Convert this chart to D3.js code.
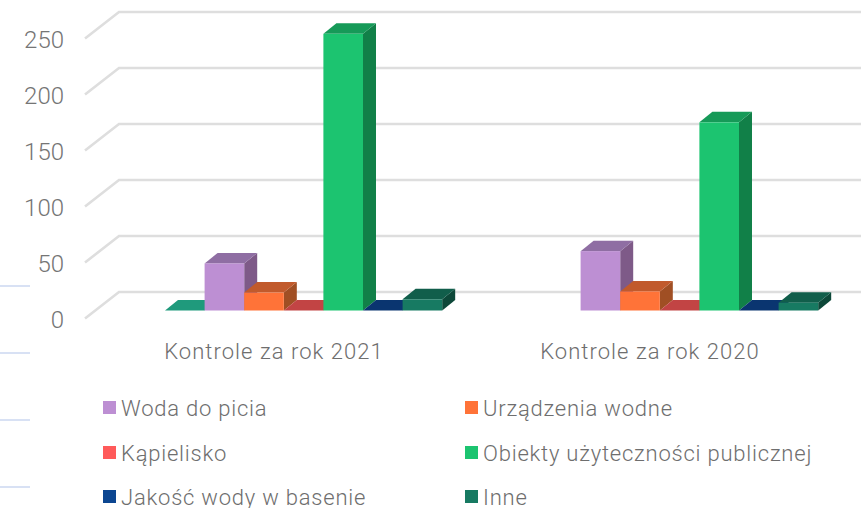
<!DOCTYPE html>
<html><head><meta charset="utf-8">
<script src="https://cdn.jsdelivr.net/npm/d3@7/dist/d3.min.js"></script>
<style>html,body{margin:0;padding:0;background:#fff}svg{display:block}
text{font-family:Roboto,sans-serif;font-weight:300}</style></head>
<body><svg id="c" width="861" height="508"></svg>
<script>
const categories = ["Kontrole za rok 2021", "Kontrole za rok 2020"];
const seriesNames = ["Seria", "Woda do picia", "Urządzenia wodne", "Kąpielisko", "Obiekty użyteczności publicznej", "Jakość wody w basenie", "Inne"];
const seriesA = [0, null];
const wodaDoPicia = [42, 53];
const urzadzenia = [16, 17];
const kapielisko = [0, 0];
const obiekty = [247, 168];
const jakosc = [0, 0];
const inne = [10, 7];
const seriesValues = [seriesA, wodaDoPicia, urzadzenia, kapielisko, obiekty, jakosc, inne];
const legendNames = ["Woda do picia", "Urządzenia wodne", "Kąpielisko", "Obiekty użyteczności publicznej", "Jakość wody w basenie", "Inne"];
const yTicks = [0, 50, 100, 150, 200, 250];
const frontColors = ["#1f9a7c", "#bd8fd3", "#ff7338", "#ff5a5a", "#1cc470", "#0c4691", "#177a62"];
const topColors = ["#1f9a7c", "#8f6ea3", "#c15a2c", "#c24444", "#169a58", "#0a3570", "#115e4b"];
const sideColors = ["#178066", "#7e5a88", "#a04f24", "#a03a3a", "#118048", "#082c5e", "#0d4839"];

const svg = d3.select("#c");
const y = d3.scaleLinear().domain([0, 250]).range([310.5, 30.5]);
const x0 = d3.scaleBand().domain(categories).range([86, 838]);
const x1 = d3.scaleBand().domain(seriesNames).range([79, 356.2]);
const dx = 13, dy = 10.5;
const poly = d3.line();

// blue decorative marks at the left edge
const marks = d3.scalePoint().domain([0, 1, 2, 3]).range([286, 487]);
svg.append("g").selectAll("line").data(marks.domain()).join("line")
  .attr("x1", 0).attr("x2", 30).attr("y1", d => marks(d)).attr("y2", d => marks(d))
  .attr("stroke", "#cfdaf2").attr("stroke-width", 1.6);

// wall + floor grid lines
const grid = svg.append("g");
grid.selectAll("path").data(yTicks).join("path")
  .attr("fill", "none").attr("stroke", "#dedede").attr("stroke-width", 2.6)
  .attr("d", d => poly([[85, y(d) + 8], [119, y(d) - 18.5], [861, y(d) - 18.5]]));

// y tick labels
svg.append("g").selectAll("text").data(yTicks).join("text")
  .attr("x", 64).attr("y", d => y(d) + 17.5).attr("text-anchor", "end")
  .attr("font-size", 24).attr("fill", "#757575").text(d => d);

// category labels
svg.append("g").selectAll("text").data(categories).join("text")
  .attr("x", d => x0(d) + x0.bandwidth() / 2).attr("y", 359).attr("text-anchor", "middle")
  .attr("font-size", 22).attr("letter-spacing", 1.05).attr("fill", "#6e6e6e").text(d => d);

// 3D bars
const bars = [];
categories.forEach((c, ci) => seriesNames.forEach((s, si) => {
  const v = seriesValues[si][ci];
  if (v !== null) bars.push({c, s, si, v});
}));
const gb = svg.append("g");
bars.forEach(b => {
  const xl = x0(b.c) + x1(b.s), xr = xl + x1.bandwidth();
  const yt = y(b.v), yb = y(0);
  const g = gb.append("g");
  g.append("path").attr("fill", sideColors[b.si])
    .attr("d", poly([[xr, yb], [xr + dx, yb - dy], [xr + dx, yt - dy], [xr, yt]]) + "Z");
  g.append("path").attr("fill", topColors[b.si])
    .attr("d", poly([[xl, yt], [xl + dx, yt - dy], [xr + dx, yt - dy], [xr, yt]]) + "Z");
  if (b.v > 0) g.append("rect").attr("x", xl).attr("y", yt).attr("width", xr - xl).attr("height", yb - yt)
    .attr("fill", frontColors[b.si]);
});

// legend
const legendCol = d3.scaleOrdinal().domain([0, 1]).range([103, 465]);
const legendRow = d3.scaleOrdinal().domain([0, 1, 2]).range([407.5, 452.5, 496.5]);
const lg = svg.append("g").selectAll("g").data(legendNames).join("g")
  .attr("transform", (d, i) => `translate(${legendCol(i % 2)},${legendRow(Math.floor(i / 2))})`);
lg.append("rect").attr("y", -6.5).attr("width", 13).attr("height", 13)
  .attr("fill", d => frontColors[seriesNames.indexOf(d)]);
lg.append("text").attr("x", 18).attr("y", 8).attr("font-size", 22).attr("letter-spacing", 0.78).attr("fill", "#6e6e6e").text(d => d);
</script></body></html>
